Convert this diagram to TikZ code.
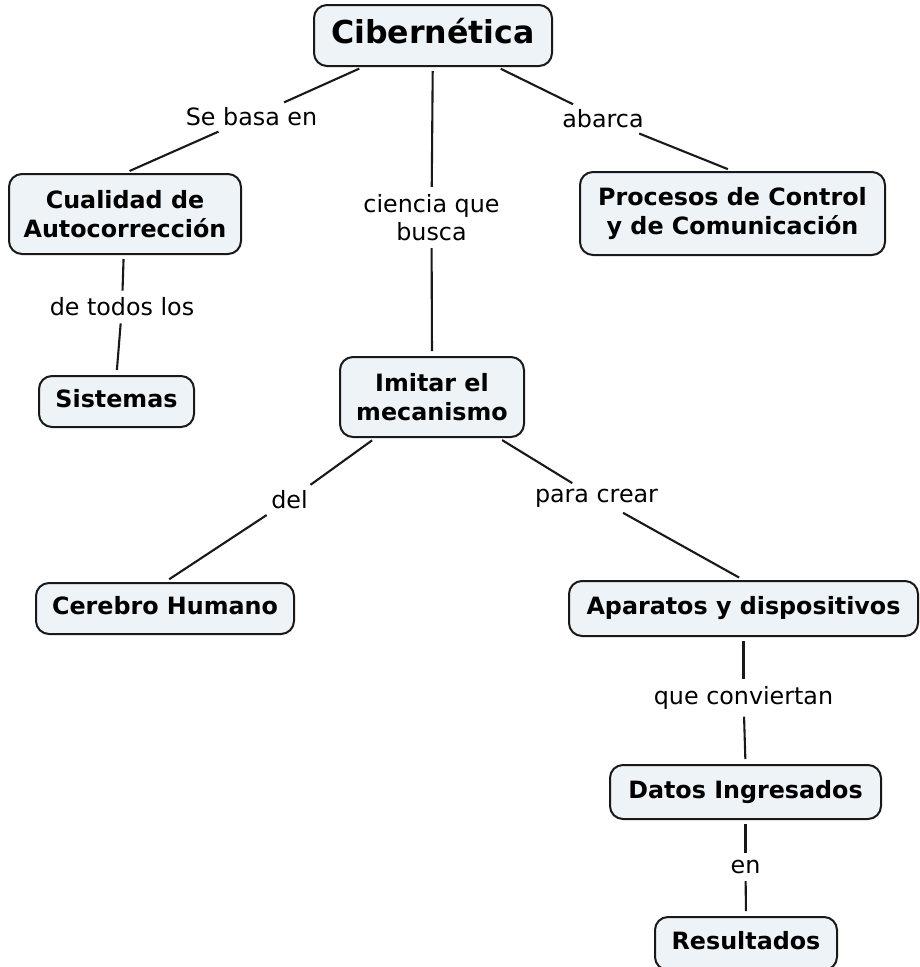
\documentclass[tikz,border=0pt]{standalone}
\usepackage{fontspec}
\setmainfont{DejaVu Sans}
\definecolor{boxfill}{RGB}{237,243,246}
\definecolor{boxline}{RGB}{25,25,25}
\begin{document}
\begin{tikzpicture}[x=1pt,y=-1pt,
  concept/.style={draw=boxline,line width=2pt,fill=boxfill,rounded corners=13pt,
    align=center,inner xsep=4pt,inner ysep=2pt,
    font=\fontsize{23.8}{29}\selectfont\bfseries},
  oneline/.style={text height=17.5pt,text depth=5pt},
  linklabel/.style={align=center,inner sep=4pt,font=\fontsize{23.8}{28.5}\selectfont},
  conn/.style={draw=boxline,line width=2.1pt,shorten <=4pt,shorten >=3pt},
  connin/.style={draw=boxline,line width=2.1pt,shorten <=3pt,shorten >=5pt}]
\useasboundingbox (0,0) rectangle (920,967);
% concepts
\node[concept,text height=23.5pt,text depth=7pt,font=\fontsize{31.6}{36}\selectfont\bfseries,minimum width=238,minimum height=61] (cib) at (433,35.5) {Cibernética};
\node[concept,minimum width=232,minimum height=80] (cual) at (125,214) {Cualidad de\\Autocorrección};
\node[concept,minimum width=305,minimum height=83] (proc) at (732.5,213.5) {Procesos de Control\\y de Comunicación};
\node[concept,oneline,minimum width=155,minimum height=51] (sist) at (116.5,401.5) {Sistemas};
\node[concept,minimum width=184,minimum height=80] (imit) at (432,397) {Imitar el\\mecanismo};
\node[concept,oneline,minimum width=258,minimum height=51] (cere) at (165,608.5) {Cerebro Humano};
\node[concept,oneline,minimum width=349,minimum height=55] (apar) at (743.5,608.5) {Aparatos y dispositivos};
\node[concept,oneline,minimum width=271,minimum height=54] (dato) at (745.5,792) {Datos Ingresados};
\node[concept,oneline,minimum width=182,minimum height=53] (resu) at (746,943.5) {Resultados};
% link labels
\node[linklabel] (sebasa) at (251.5,117) {Se basa en};
\node[linklabel] (ciencia) at (431.5,217.5) {ciencia que\\busca};
\node[linklabel] (abarca) at (603,119) {abarca};
\node[linklabel] (todos) at (122,307) {de todos los};
\node[linklabel] (del) at (289.5,500) {del};
\node[linklabel] (para) at (596.5,498) {para crear};
\node[linklabel] (conv) at (743.5,698) {que conviertan};
\node[linklabel] (en) at (745.5,867) {en};
% connectors
\draw[conn] (cib) -- (sebasa);
\draw[connin] (sebasa) -- (cual.north);
\draw[conn] (cib) -- (ciencia);
\draw[connin] (ciencia) -- (imit.north);
\draw[conn] (cib) -- (abarca);
\draw[connin] (abarca) -- (proc.north);
\draw[conn] (cual) -- (todos);
\draw[connin] (todos) -- (sist.north);
\draw[conn] (imit) -- (del);
\draw[connin] (del) -- (cere.north);
\draw[conn] (imit) -- (para);
\draw[connin] (para) -- (apar.north);
\draw[conn] (apar) -- (conv);
\draw[connin] (conv) -- (dato.north);
\draw[conn] (dato) -- (en);
\draw[connin] (en) -- (resu.north);
\end{tikzpicture}
\end{document}
